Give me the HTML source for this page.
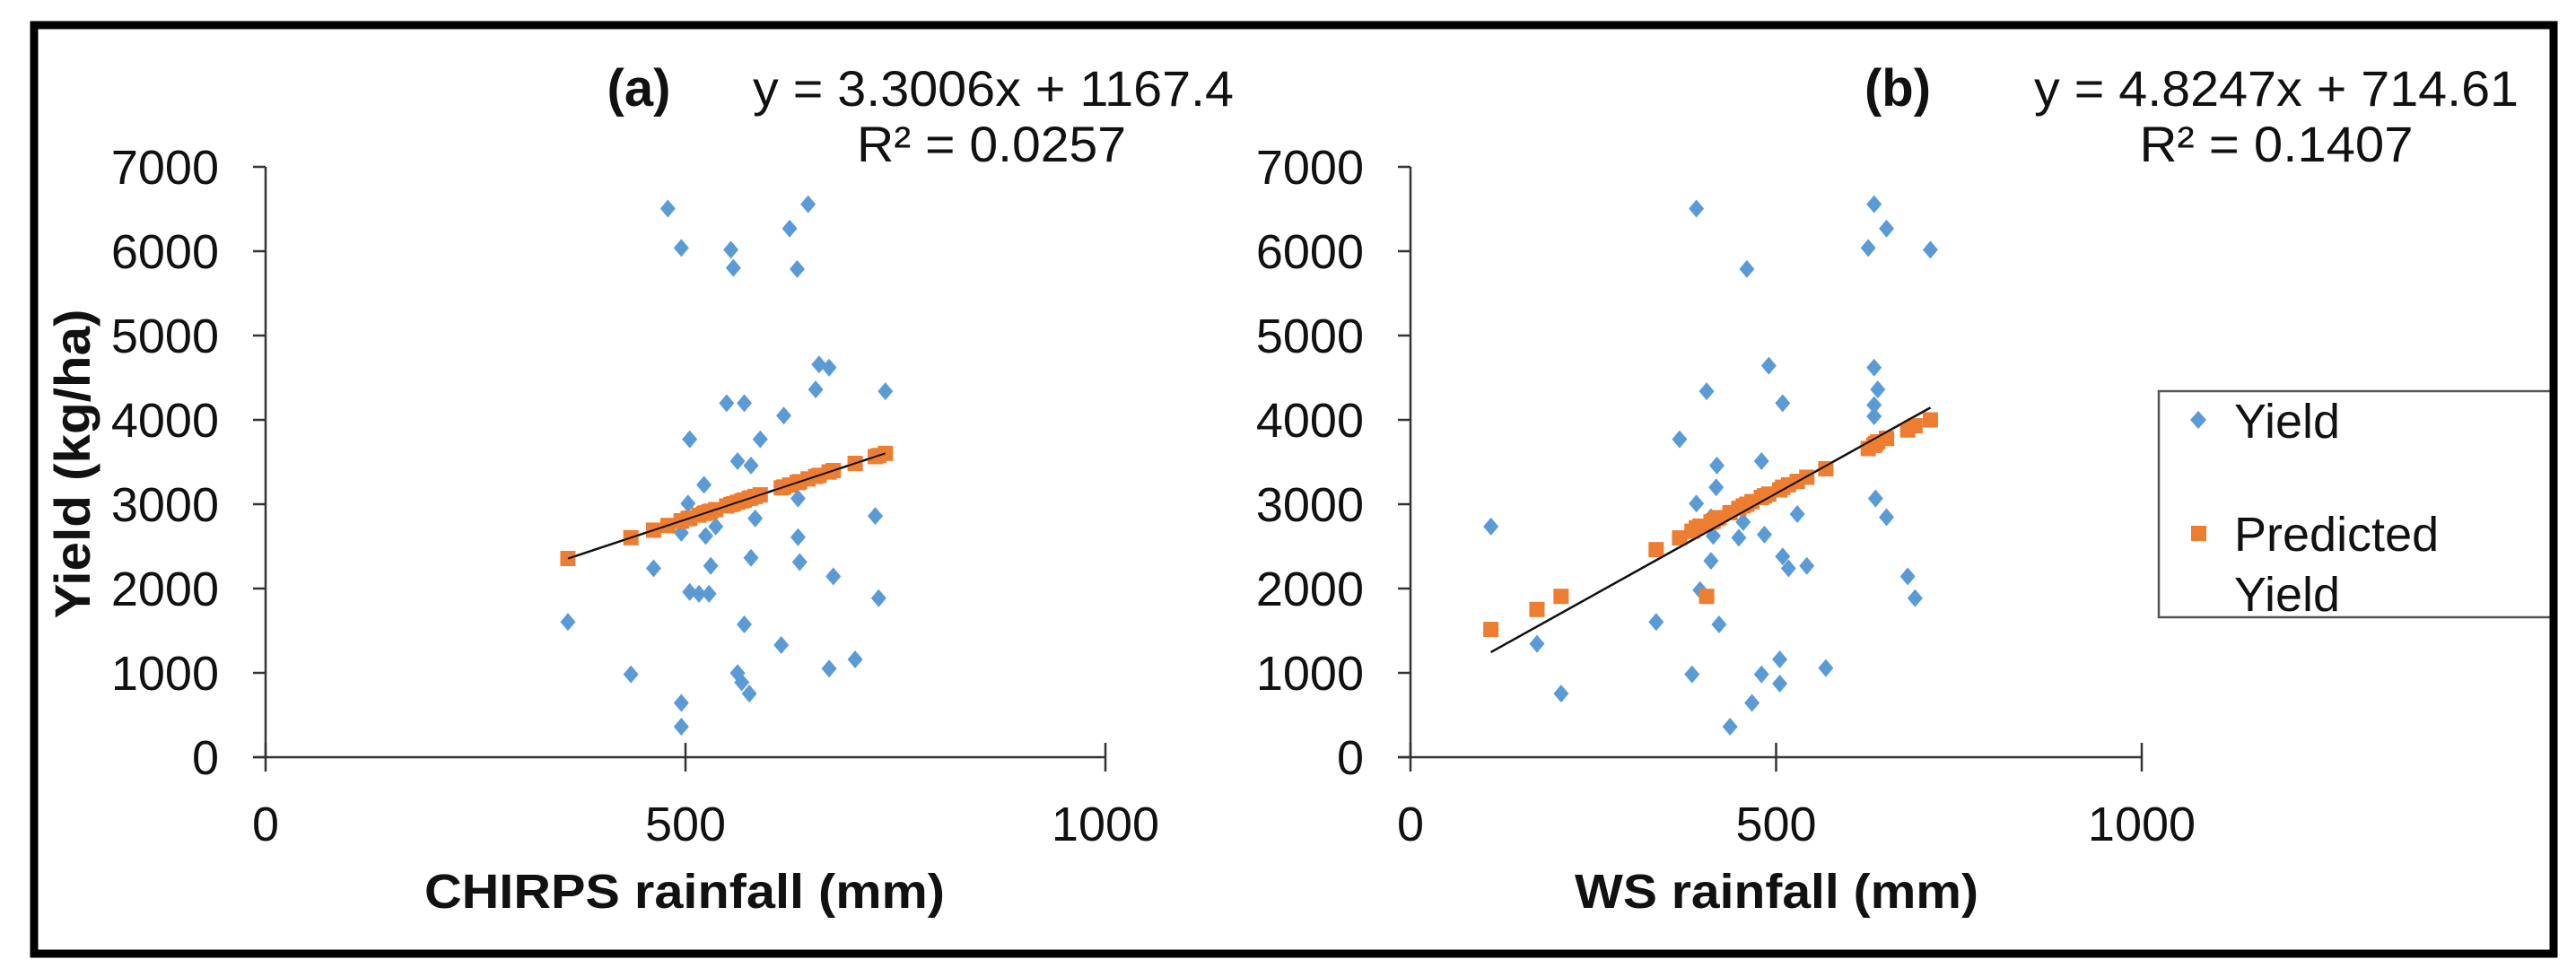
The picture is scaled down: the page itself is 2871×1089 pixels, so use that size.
<!DOCTYPE html>
<html><head><meta charset="utf-8"><style>
html,body{margin:0;padding:0;background:#fff}
svg{display:block;font-family:"Liberation Sans",Arial,sans-serif}
</style></head><body>
<svg id="chart" width="2871" height="1089" viewBox="0 0 2871 1089" xmlns="http://www.w3.org/2000/svg">
<rect x="0" y="0" width="2871" height="1089" fill="#fff"/>
<g id="plots"></g>
<rect x="38" y="28" width="2808" height="1035" fill="none" stroke="#000" stroke-width="9"/>
</svg>
<script>
// Panel (a) CHIRPS
const xA = [360,435,462,479,495,495,495,495,505,505,503,516,528,522,524,530,536,549,554,557,562,562,567,570,570,576,578,578,583,589,614,617,624,633,634,634,636,646,655,659,671,671,676,702,726,730,738];
const yieldA = [1604,983,2240,6505,6039,643,362,2661,3770,1959,3008,1937,1937,3230,2624,2269,2735,4198,6017,5802,3511,998,887,4198,1574,754,3459,2365,2831,3770,1330,4050,6268,5788,3068,2609,2314,6557,4361,4657,4620,1050,2144,1160,2861,1885,4339];
const predA = [2356,2603,2692,2748,2801,2801,2801,2801,2834,2834,2828,2871,2910,2890,2897,2917,2936,2979,2996,3006,3022,3022,3039,3049,3049,3069,3075,3075,3092,3111,3194,3204,3227,3257,3260,3260,3267,3300,3329,3342,3382,3382,3399,3484,3564,3577,3603];
// Panel (b) WS
const xB = [110,173,206,336,368,385,391,391,396,405,411,422,414,418,419,411,437,449,455,460,467,480,480,484,490,505,505,509,509,517,529,542,568,626,634,634,634,634,639,636,651,651,680,690,711];
const yieldB = [2735,1345,754,1604,3770,983,6505,3008,1981,4339,2328,1574,2624,3200,3459,2846,362,2602,2787,5788,643,3511,983,2639,4642,1160,872,2380,4198,2240,2883,2269,1057,6039,6557,4620,4176,4043,4361,3068,6268,2846,2144,1885,6017];
const predB = [1515,1752,1907,2461,2600,2680,2720,2720,2740,1907,2790,2840,2800,2830,2830,2790,2900,2950,2980,3000,3030,3080,3080,3100,3120,3170,3170,3200,3200,3230,3270,3320,3420,3660,3700,3700,3700,3700,3740,3720,3780,3780,3880,3930,4000];
const slopes = [3.3006, 4.8247];
const intercepts = [1167.4, 714.61];
const eqLabels = ["y = 3.3006x + 1167.4", "y = 4.8247x + 714.61"];
const r2Labels = ["R\u00b2 = 0.0257", "R\u00b2 = 0.1407"];
const panelLabels = ["(a)", "(b)"];
const xTitles = ["CHIRPS rainfall (mm)", "WS rainfall (mm)"];
const yTicks = [0,1000,2000,3000,4000,5000,6000,7000];
const xTicks = [0,500,1000];

const NS = "http://www.w3.org/2000/svg";
const root = document.getElementById('plots');
function mk(tag, attrs, parent){const e=document.createElementNS(NS,tag);for(const k in attrs)e.setAttribute(k,attrs[k]);(parent||root).appendChild(e);return e;}

const panels = [
 {x0:296, x1:1232, xs:xA, ys:yieldA, ps:predA, lblX:712, eqX:1107, eqW:536, r2X:1105, r2W:300, ytr:244, name:'a', xtX:763, xtW:580},
 {x0:1572, x1:2387, xs:xB, ys:yieldB, ps:predB, lblX:2115, eqX:2537, eqW:540, r2X:2537, r2W:305, ytr:1520, name:'b', xtX:1980, xtW:450}
];
const Y0 = 844, Y7 = 186;
panels.forEach((p,i)=>{
  const g = mk('g',{});
  
  
  const sx = v => p.x0 + (p.x1-p.x0)*v/1000;
  const sy = v => Y0 - (Y0-Y7)*v/7000;
  // y axis
  const ya = mk('line',{x1:p.x0,y1:sy(7000),x2:p.x0,y2:Y0,stroke:'#333','stroke-width':2.5},g);
  
  
  yTicks.forEach(t=>{
    const tk = mk('line',{x1:p.x0-14,y1:sy(t),x2:p.x0,y2:sy(t),stroke:'#333','stroke-width':2.5},g);
    
    
    const tl = mk('text',{x:p.ytr,y:sy(t)+19,'text-anchor':'end','font-size':54,fill:'#111'},g);
    tl.textContent = t;
    
    
  });
  // x axis
  const xa = mk('line',{x1:p.x0-14,y1:Y0,x2:p.x1,y2:Y0,stroke:'#333','stroke-width':2.5},g);
  
  
  xTicks.forEach(t=>{
    const tk = mk('line',{x1:sx(t),y1:Y0-16,x2:sx(t),y2:Y0+16,stroke:'#333','stroke-width':2.5},g);
    
    
    const tl = mk('text',{x:sx(t),y:937,'text-anchor':'middle','font-size':54,fill:'#111'},g);
    tl.textContent = t;
    
    
  });
  const xt = mk('text',{x:p.xtX,y:1012,'text-anchor':'middle','font-size':54,'font-weight':'bold',fill:'#111',textLength:p.xtW,lengthAdjust:'spacingAndGlyphs'},g);
  xt.textContent = xTitles[i];
  
  
  // blue yield diamonds
  p.xs.forEach((xv,j)=>{
    const cx=sx(xv), cy=sy(p.ys[j]);
    const d = mk('polygon',{points:`${cx},${cy-10} ${cx+8.5},${cy} ${cx},${cy+10} ${cx-8.5},${cy}`,fill:'#5B9BD5'},g);
    
    
  });
  // trend line
  const xmin=Math.min(...p.xs), xmax=Math.max(...p.xs);
  const tl = mk('line',{x1:sx(xmin),y1:sy(slopes[i]*xmin+intercepts[i]),x2:sx(xmax),y2:sy(slopes[i]*xmax+intercepts[i]),stroke:'#111','stroke-width':2.5},g);
  
  
  // orange predicted squares
  p.xs.forEach((xv,j)=>{
    const cx=sx(xv), cy=sy(p.ps[j]);
    const s = mk('rect',{x:cx-8.5,y:cy-8.5,width:17,height:17,fill:'#ED7D31'},g);
    
    
  });
  // re-draw line on top lightly
  mk('line',{x1:sx(xmin),y1:sy(slopes[i]*xmin+intercepts[i]),x2:sx(xmax),y2:sy(slopes[i]*xmax+intercepts[i]),stroke:'#111','stroke-width':2},g);
  const pl = mk('text',{x:p.lblX,y:118,'text-anchor':'middle','font-size':58,'font-weight':'bold',fill:'#111'},g);
  pl.textContent = panelLabels[i];
  
  
  const eq = mk('text',{x:p.eqX,y:118,'text-anchor':'middle','font-size':56,fill:'#111',textLength:p.eqW,lengthAdjust:'spacingAndGlyphs'},g);
  eq.textContent = eqLabels[i];
  
  
  const r2 = mk('text',{x:p.r2X,y:180,'text-anchor':'middle','font-size':56,fill:'#111',textLength:p.r2W,lengthAdjust:'spacingAndGlyphs'},g);
  r2.textContent = r2Labels[i];
  
  
});
// y axis title
const yt = mk('text',{x:0,y:0,transform:'translate(100,517) rotate(-90)','text-anchor':'middle','font-size':56,'font-weight':'bold',fill:'#111',textLength:345,lengthAdjust:'spacingAndGlyphs'});
yt.textContent = 'Yield (kg/ha)';


// legend
const lg = mk('g',{});


mk('rect',{x:2406,y:436,width:443,height:252,fill:'#fff',stroke:'#555','stroke-width':2.5},lg);
const ld = mk('polygon',{points:'2450,458 2459,468 2450,478 2441,468',fill:'#5B9BD5'},lg);


const l1 = mk('text',{x:2490,y:488,'font-size':54,fill:'#111'},lg);
l1.textContent='Yield';


const ls = mk('rect',{x:2442,y:586,width:17,height:17,fill:'#ED7D31'},lg);


const l2 = mk('text',{x:2490,y:614,'font-size':54,fill:'#111'},lg);
l2.textContent='Predicted';


const l3 = mk('text',{x:2490,y:681,'font-size':54,fill:'#111'},lg);
l3.textContent='Yield';


</script>
</body></html>
